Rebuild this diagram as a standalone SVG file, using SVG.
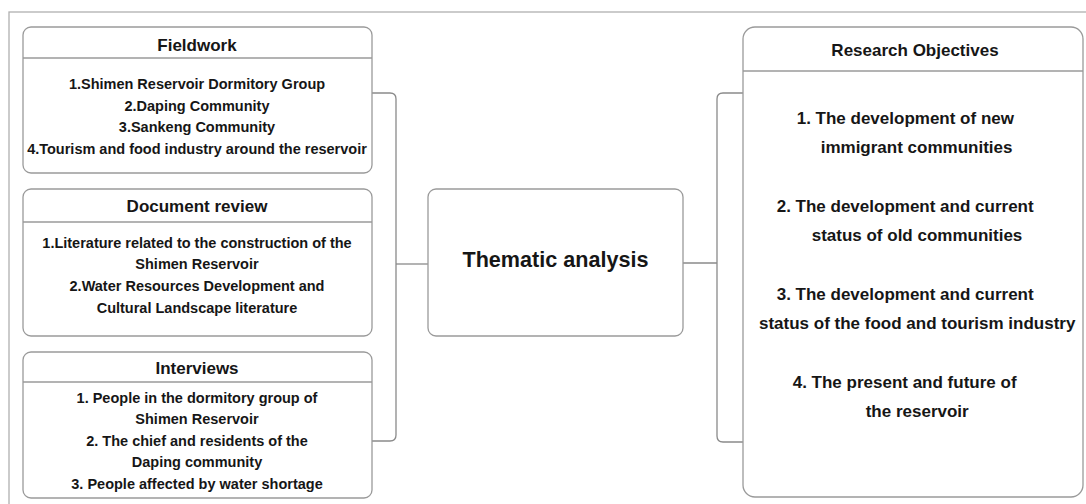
<svg xmlns="http://www.w3.org/2000/svg" width="1086" height="504" viewBox="0 0 1086 504">
<style>
.box{fill:#fff;stroke:#9a9a9a;stroke-width:1.3}
.div{stroke:#9a9a9a;stroke-width:1.3;fill:none}
.conn{stroke:#8a8a8a;stroke-width:1.3;fill:none}
text{font-family:"Liberation Sans",Arial,Helvetica,sans-serif;font-weight:bold;fill:#161616}
.h{font-size:17px;text-anchor:middle}
.it{font-size:14.5px;text-anchor:middle}
.ro{font-size:17px}
</style>
<rect width="1086" height="504" fill="#fff"/>
<rect x="9" y="12" width="1100" height="520" fill="none" stroke="#b0b0b0" stroke-width="1.3"/>
<g id="connectors">
<path class="conn" d="M372 93 H390 Q396 93 396 99 V435 Q396 441 390 441 H372"/>
<path class="conn" d="M396 264 H428"/>
<path class="conn" d="M683 263 H717"/>
<path class="conn" d="M743 93 H723 Q717 93 717 99 V436 Q717 442 723 442 H743"/>
</g>
<g id="fieldwork">
<rect class="box" x="23" y="27" width="349" height="146" rx="8"/>
<line class="div" x1="23" y1="58" x2="372" y2="58"/>
<text class="h" x="197" y="51">Fieldwork</text>
<text class="it" x="197" y="88.5">1.Shimen Reservoir Dormitory Group</text>
<text class="it" x="197" y="110.5">2.Daping Community</text>
<text class="it" x="197" y="132">3.Sankeng Community</text>
<text class="it" x="197" y="154">4.Tourism and food industry around the reservoir</text>
</g>
<g id="document-review">
<rect class="box" x="23" y="189" width="349" height="147" rx="8"/>
<line class="div" x1="23" y1="222" x2="372" y2="222"/>
<text class="h" x="197" y="212">Document review</text>
<text class="it" x="197" y="247.5">1.Literature related to the construction of the</text>
<text class="it" x="197" y="269.3">Shimen Reservoir</text>
<text class="it" x="197" y="291">2.Water Resources Development and</text>
<text class="it" x="197" y="312.7">Cultural Landscape literature</text>
</g>
<g id="interviews">
<rect class="box" x="23" y="352" width="349" height="146" rx="8"/>
<line class="div" x1="23" y1="382" x2="372" y2="382"/>
<text class="h" x="197" y="374">Interviews</text>
<text class="it" x="197" y="402.7">1. People in the dormitory group of</text>
<text class="it" x="197" y="424.3">Shimen Reservoir</text>
<text class="it" x="197" y="445.8">2. The chief and residents of the</text>
<text class="it" x="197" y="467.4">Daping community</text>
<text class="it" x="197" y="489">3. People affected by water shortage</text>
</g>
<g id="thematic-analysis">
<rect class="box" x="428" y="189" width="255" height="147" rx="8"/>
<text x="555.5" y="267.3" style="font-size:21.6px;text-anchor:middle">Thematic analysis</text>
</g>
<g id="research-objectives">
<rect class="box" x="743" y="27" width="340" height="470" rx="12"/>
<line class="div" x1="743" y1="71" x2="1083" y2="71"/>
<text class="h" x="915" y="56">Research Objectives</text>
<text class="ro" x="796.7" y="123.5">1. The development of new</text>
<text class="ro" x="820.7" y="152.5">immigrant communities</text>
<text class="ro" x="776.7" y="211.7">2. The development and current</text>
<text class="ro" x="811.7" y="240.7">status of old communities</text>
<text class="ro" x="776.7" y="300">3. The development and current</text>
<text class="ro" x="759" y="329.3">status of the food and tourism industry</text>
<text class="ro" x="792.7" y="387.7">4. The present and future of</text>
<text class="ro" x="865.7" y="416.7">the reservoir</text>
</g>
</svg>
